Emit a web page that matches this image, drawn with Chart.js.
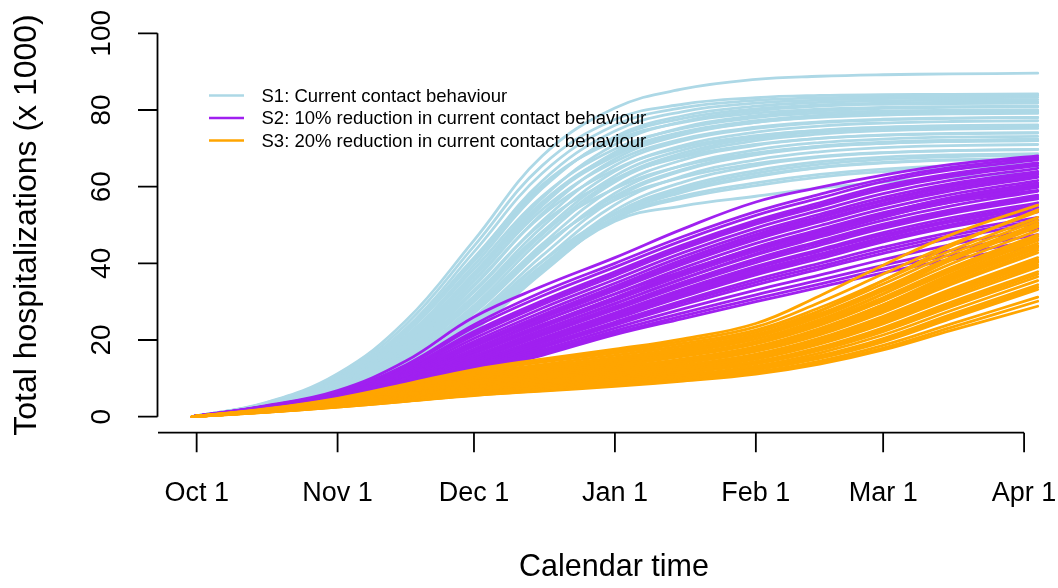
<!DOCTYPE html>
<html>
<head>
<meta charset="utf-8">
<title>Total hospitalizations</title>
<script src="https://cdn.jsdelivr.net/npm/chart.js@4.4.1/dist/chart.umd.min.js"></script>
<style>
  html, body { margin: 0; padding: 0; background: #fff; }
  canvas { display: block; }
</style>
</head>
<body>
<canvas id="hospChart" width="1058" height="588"></canvas>
<script>
// days since Oct 1 at which each run is sampled
const days = [-1, 15, 31, 46, 61, 76, 92, 107, 123, 137, 151, 166, 185];

// S1: current contact behaviour
const s1Runs = [
  [0, 3.6, 11.2, 25, 46, 68, 80.5, 85.5, 88, 88.8, 89.2, 89.4, 89.6],
  [0, 3.5, 10.8, 24, 44.5, 65.5, 77.5, 81.5, 83.2, 83.8, 84, 84.1, 84.2],
  [0, 3.4, 10.4, 23, 43, 63.5, 76, 80.6, 82.5, 83.2, 83.5, 83.7, 83.8],
  [0, 3.3, 10, 22, 41, 61.5, 74.5, 79.6, 81.8, 82.6, 83, 83.2, 83.3],
  [0, 3.2, 9.6, 21, 39.5, 59.5, 73, 78.5, 81, 82, 82.4, 82.6, 82.7],
  [0, 3.4, 10.2, 22.5, 41.5, 60.5, 72, 76.8, 79.2, 80.2, 80.7, 80.9, 81],
  [0, 3.1, 9.2, 20, 37.5, 57, 71, 77, 79.8, 81, 81.5, 81.7, 81.8],
  [0, 3.2, 9.4, 20.5, 38.5, 57.5, 69.8, 75.2, 78, 79.2, 79.7, 79.9, 80],
  [0, 3.0, 8.7, 18.8, 35.5, 55, 69, 75.5, 78.5, 79.8, 80.4, 80.7, 80.8],
  [0, 3.1, 9.0, 19.5, 36.5, 55.5, 68, 73.8, 76.8, 78.1, 78.7, 79, 79.1],
  [0, 2.9, 8.4, 18, 34, 53, 67.2, 73.6, 76.8, 78.2, 78.9, 79.2, 79.4],
  [0, 3.0, 8.8, 19, 35.5, 54, 66.5, 72.5, 75.5, 76.9, 77.6, 77.9, 78.1],
  [0, 2.9, 8.1, 17.3, 32.5, 51, 65.5, 72, 75.2, 76.7, 77.4, 77.8, 78],
  [0, 2.8, 7.9, 16.8, 31.5, 49.5, 64, 70.8, 74.2, 75.8, 76.6, 77, 77.2],
  [0, 3.0, 8.6, 18.3, 34.5, 52.5, 64.5, 70.3, 73.3, 74.7, 75.4, 75.8, 76],
  [0, 2.8, 7.7, 16.3, 30.5, 48.2, 62.8, 69.6, 73.1, 74.7, 75.5, 75.9, 76.1],
  [0, 2.7, 7.4, 15.5, 29, 46.5, 61.2, 68.2, 72, 73.7, 74.6, 75, 75.2],
  [0, 2.9, 8.2, 17.5, 33, 50.5, 62, 67.8, 71, 72.6, 73.4, 73.8, 74],
  [0, 2.7, 7.2, 15, 28, 45, 59.8, 67, 70.8, 72.6, 73.5, 73.9, 74.1],
  [0, 2.6, 7.0, 14.5, 27, 43.5, 58.3, 65.6, 69.6, 71.5, 72.4, 72.9, 73.1],
  [0, 2.8, 7.8, 16.5, 31, 48, 59.5, 65.5, 68.8, 70.5, 71.3, 71.8, 72],
  [0, 2.6, 6.8, 14, 26, 42, 56.8, 64.2, 68.3, 70.3, 71.3, 71.8, 72],
  [0, 2.6, 6.6, 13.5, 25, 40.5, 55.3, 62.8, 67, 69.1, 70.2, 70.7, 71],
  [0, 2.7, 7.3, 15.3, 28.5, 44.5, 56.5, 62.5, 66, 67.9, 68.9, 69.4, 69.7],
  [0, 2.5, 6.4, 13, 24, 39, 53.8, 61.2, 65.5, 67.7, 68.8, 69.4, 69.7],
  [0, 2.5, 6.2, 12.6, 23.3, 38.5, 53, 60, 64.2, 66.5, 67.7, 68.3, 68.6],
  [0, 2.6, 6.7, 13.8, 25.5, 40.5, 52.8, 59, 62.8, 65, 66.2, 66.9, 67.3],
  [0, 2.4, 6.0, 12.2, 22.6, 37.5, 52, 58.6, 62.6, 65, 66.3, 67, 67.4],
  [0, 2.4, 5.8, 11.8, 22.5, 38, 51, 55, 57.5, 59.6, 61.2, 62.5, 63.6],
  [0, 2.5, 6.3, 12.8, 23.8, 39, 52, 57.6, 61, 63.2, 64.6, 65.5, 66],
  [0, 2.4, 5.9, 12, 22.8, 38, 51.5, 57, 60.3, 62.5, 63.9, 64.8, 65.3],
  [0, 3.3, 9.9, 21.8, 40.5, 60, 72.6, 77.8, 80.3, 81.3, 81.8, 82, 82.1],
  [0, 3.1, 9.1, 19.8, 37, 56, 68.6, 74.3, 77.2, 78.6, 79.2, 79.5, 79.7],
  [0, 2.8, 7.6, 16, 30, 47.5, 61.8, 68.8, 72.6, 74.3, 75.1, 75.5, 75.7],
  [0, 2.7, 7.1, 14.8, 27.5, 44, 57.5, 64.5, 68.5, 70.6, 71.6, 72.1, 72.4],
  [0, 2.5, 6.5, 13.3, 24.5, 39.5, 53, 59.5, 63.5, 65.8, 67.1, 67.8, 68.2]
];

// S2: 10% reduction in current contact behaviour
const s2Runs = [
  [0, 2.8, 6.8, 14.5, 26, 34, 41.5, 49, 56, 59.8, 63, 65.8, 68],
  [0, 2.7, 6.5, 13.5, 24, 32.5, 40, 47, 53.5, 58, 62, 65, 67.5],
  [0, 2.7, 6.4, 13.2, 23.3, 31.5, 39, 46, 52.5, 57, 61.3, 64.4, 67],
  [0, 2.6, 6.2, 12.6, 22.2, 30.2, 37.8, 44.8, 51.2, 55.8, 60.2, 63.4, 66.2],
  [0, 2.6, 6.0, 12.1, 21.2, 29.2, 36.8, 43.8, 50.2, 54.8, 59.2, 62.6, 65.5],
  [0, 2.5, 5.9, 11.7, 20.4, 28.3, 35.8, 42.8, 49.2, 53.8, 58.2, 61.7, 64.8],
  [0, 2.5, 5.8, 11.3, 19.6, 27.3, 34.8, 41.8, 48.2, 52.8, 57.2, 60.8, 64],
  [0, 2.4, 5.6, 10.9, 18.9, 26.4, 33.8, 40.8, 47.2, 51.8, 56.2, 59.9, 63.2],
  [0, 2.4, 5.5, 10.6, 18.3, 25.6, 32.9, 39.8, 46.2, 50.8, 55.2, 58.9, 62.4],
  [0, 2.3, 5.4, 10.2, 17.6, 24.8, 32, 38.8, 45.2, 49.8, 54.2, 58, 61.6],
  [0, 2.3, 5.3, 9.9, 17, 24, 31.1, 37.8, 44.2, 48.8, 53.2, 57, 60.7],
  [0, 2.2, 5.1, 9.6, 16.4, 23.3, 30.3, 36.9, 43.2, 47.8, 52.2, 56, 59.8],
  [0, 2.2, 5.0, 9.3, 15.8, 22.6, 29.5, 36, 42.2, 46.8, 51.2, 55, 58.8],
  [0, 2.1, 4.9, 9.0, 15.2, 21.9, 28.7, 35.1, 41.2, 45.8, 50.2, 54, 57.8],
  [0, 2.1, 4.8, 8.7, 14.7, 21.2, 27.9, 34.2, 40.2, 44.7, 49.1, 53, 56.8],
  [0, 2.0, 4.7, 8.5, 14.2, 20.5, 27.1, 33.3, 39.2, 43.6, 48, 51.9, 55.8],
  [0, 2.0, 4.6, 8.3, 13.8, 19.8, 26.3, 32.3, 38.1, 42.4, 46.8, 50.8, 54.6],
  [0, 2.0, 4.5, 8.1, 13.4, 19.2, 25.5, 31.3, 37, 41.2, 45.6, 49.5, 53.4],
  [0, 1.9, 4.4, 7.9, 13, 18.6, 24.7, 30.3, 35.8, 40, 44.2, 48.1, 52],
  [0, 1.9, 4.3, 7.7, 12.6, 18, 23.9, 29.2, 34.4, 38.5, 42.6, 46.5, 50.5],
  [0, 1.9, 4.3, 7.5, 12.3, 17.4, 23.1, 28.1, 33, 36.9, 41, 44.9, 49],
  [0, 1.8, 4.2, 7.3, 12, 16.9, 22.4, 27.1, 31.8, 35.6, 39.5, 43.4, 47.5],
  [0, 1.8, 4.2, 7.2, 11.7, 16.4, 21.8, 26.3, 30.8, 34.6, 38.5, 42.2, 46],
  [0, 1.8, 4.1, 7.1, 11.5, 16, 21.4, 25.6, 30, 33.7, 37.5, 41, 44.5],
  [0, 2.3, 5.3, 10.2, 17.6, 25, 32, 38, 44, 48.3, 52.5, 56, 59],
  [0, 2.1, 4.8, 9, 15.5, 22.5, 29.5, 36, 42.5, 47.3, 52, 56.2, 60],
  [0, 2.4, 5.6, 11, 19, 26.5, 34, 41, 47.5, 52.2, 56.5, 60.3, 63.5],
  [0, 2.2, 5.0, 9.5, 16.5, 23.5, 30.5, 37, 43.5, 48.5, 53, 57.2, 61],
  [0, 2.6, 6.1, 12.3, 21.7, 29.8, 37.4, 44.2, 50.6, 55.2, 59.6, 63, 66],
  [0, 2.2, 5.2, 9.8, 16.8, 23.8, 30.8, 37.4, 43.8, 48.4, 52.8, 56.6, 60.3],
  [0, 2.0, 4.6, 8.4, 14, 20.1, 26.6, 32.8, 38.7, 43.1, 47.4, 51.3, 55.2],
  [0, 1.9, 4.4, 7.8, 12.8, 18.3, 24.3, 29.8, 35.1, 39.2, 43.4, 47.3, 51.2],
  [0, 2.4, 5.5, 10.7, 18.5, 26, 33.3, 40.2, 46.6, 51.2, 55.6, 59.3, 62.7],
  [0, 2.1, 4.9, 8.9, 15, 21.6, 28.4, 34.7, 40.8, 45.3, 49.7, 53.5, 57.3],
  [0, 2.3, 5.2, 9.8, 16.9, 23.9, 31, 37.6, 44, 48.6, 53, 56.8, 60.4],
  [0, 2.0, 4.5, 8.2, 13.6, 19.5, 25.9, 31.8, 37.5, 41.8, 46.2, 50.1, 54]
];

// S3: 20% reduction in current contact behaviour
const s3Runs = [
  [0, 2.0, 4.8, 8.5, 12.3, 15, 17.6, 20.3, 24.3, 31.5, 39.5, 47.5, 55.2],
  [0, 1.9, 4.6, 8.2, 12, 14.6, 17.1, 19.7, 23.4, 29.8, 37.2, 45, 53.5],
  [0, 1.9, 4.5, 8, 11.7, 14.2, 16.6, 19.1, 22.6, 28.4, 35.5, 43.4, 52],
  [0, 1.8, 4.3, 7.6, 11.2, 13.6, 16, 18.5, 22, 27.6, 34.6, 42.5, 51.2],
  [0, 1.8, 4.2, 7.3, 10.8, 13.1, 15.4, 17.9, 21.4, 26.8, 33.6, 41.6, 50.3],
  [0, 1.7, 4.0, 7.0, 10.3, 12.6, 14.9, 17.3, 20.8, 26, 32.8, 40.8, 49.5],
  [0, 1.7, 3.9, 6.7, 9.9, 12.1, 14.4, 16.8, 20.2, 25.3, 32, 39.9, 48.6],
  [0, 1.6, 3.8, 6.5, 9.5, 11.6, 13.9, 16.3, 19.6, 24.6, 31.1, 38.9, 47.5],
  [0, 1.6, 3.7, 6.3, 9.1, 11.2, 13.4, 15.7, 19, 23.8, 30.2, 37.9, 46.5],
  [0, 1.5, 3.5, 6.0, 8.7, 10.7, 12.9, 15.1, 18.3, 23, 29.2, 36.8, 45.2],
  [0, 1.5, 3.4, 5.8, 8.4, 10.3, 12.4, 14.6, 17.6, 22.1, 28.2, 35.6, 44],
  [0, 1.5, 3.3, 5.6, 8.0, 9.9, 11.9, 14, 17, 21.3, 27.2, 34.5, 42.8],
  [0, 1.4, 3.2, 5.4, 7.7, 9.5, 11.4, 13.4, 16.3, 20.5, 26.2, 33.3, 41.5],
  [0, 1.4, 3.1, 5.2, 7.4, 9.1, 10.9, 12.9, 15.6, 19.7, 25.2, 32.2, 40.2],
  [0, 1.4, 3.0, 5.0, 7.1, 8.7, 10.5, 12.4, 15, 18.9, 24.2, 31, 39],
  [0, 1.3, 2.9, 4.8, 6.8, 8.4, 10.1, 11.9, 14.4, 18.1, 23.2, 29.9, 37.8],
  [0, 1.3, 2.8, 4.6, 6.5, 8.0, 9.7, 11.4, 13.8, 17.3, 22.2, 28.7, 36.5],
  [0, 1.3, 2.8, 4.5, 6.3, 7.7, 9.3, 10.9, 13.2, 16.6, 21.3, 27.7, 35.5],
  [0, 1.2, 2.7, 4.4, 6.1, 7.4, 8.9, 10.5, 12.7, 15.9, 20.4, 26.7, 34.4],
  [0, 1.2, 2.6, 4.2, 5.9, 7.2, 8.6, 10.1, 12.2, 15.2, 19.5, 25.6, 33.2],
  [0, 1.2, 2.6, 4.1, 5.7, 7, 8.3, 9.7, 11.7, 14.5, 18.6, 24.2, 31.2],
  [0, 1.1, 2.5, 4.0, 5.6, 6.8, 8.1, 9.5, 11.4, 14.1, 17.9, 23.3, 30.1],
  [0, 1.1, 2.5, 4.0, 5.5, 6.7, 7.9, 9.3, 11.1, 13.7, 17.4, 22.5, 28.8],
  [0, 1.6, 3.6, 6.2, 9, 11, 13.3, 15.9, 19.5, 25, 32, 41, 50.5],
  [0, 1.7, 3.9, 6.8, 10, 12.2, 14.5, 17.2, 21, 27.5, 35.5, 44.5, 54],
  [0, 1.4, 3.2, 5.5, 7.9, 9.7, 11.6, 13.9, 17.2, 21.8, 28, 35.8, 44.5],
  [0, 1.3, 2.9, 4.9, 7, 8.6, 10.3, 12.3, 15.2, 19.3, 24.9, 32.2, 40.5],
  [0, 1.5, 3.4, 5.9, 8.5, 10.5, 12.6, 14.9, 18, 22.8, 29.2, 37.2, 46],
  [0, 1.7, 4.1, 7.2, 10.6, 12.9, 15.2, 17.6, 21.1, 26.4, 33.2, 41.2, 49.9],
  [0, 1.6, 3.7, 6.4, 9.3, 11.4, 13.6, 16, 19.3, 24.2, 30.7, 38.4, 47],
  [0, 1.5, 3.5, 5.9, 8.6, 10.5, 12.6, 14.8, 17.9, 22.5, 28.7, 36.2, 44.6],
  [0, 1.4, 3.1, 5.3, 7.5, 9.3, 11.1, 13.1, 15.9, 20.1, 25.7, 32.8, 40.9],
  [0, 1.3, 2.9, 4.7, 6.6, 8.2, 9.9, 11.6, 14.1, 17.7, 22.7, 29.3, 37.2],
  [0, 1.2, 2.7, 4.3, 6.0, 7.3, 8.8, 10.3, 12.4, 15.5, 19.9, 26.1, 33.8],
  [0, 1.5, 3.4, 5.7, 8.2, 10.1, 12.2, 14.3, 17.3, 21.7, 27.7, 35, 43.4],
  [0, 1.3, 3.0, 5.1, 7.2, 8.9, 10.7, 12.6, 15.3, 19.3, 24.7, 31.6, 39.6]
];

const monthDays = [0, 31, 61, 92, 123, 151, 182];
const monthLabels = ["Oct 1", "Nov 1", "Dec 1", "Jan 1", "Feb 1", "Mar 1", "Apr 1"];
const yTicks = [0, 20, 40, 60, 80, 100];

const scenarioNames = [
  "S1: Current contact behaviour",
  "S2: 10% reduction in current contact behaviour",
  "S3: 20% reduction in current contact behaviour"
];
const scenarioColors = ["#ADD8E6", "#A020F0", "#FFA500"];

const FONT = "'Liberation Sans', Arial, Helvetica, sans-serif";

function makeDatasets(runs, color, order) {
  return runs.map(run => ({
    data: run.map((v, i) => ({ x: days[i], y: v })),
    borderColor: color,
    borderWidth: 2.8,
    pointRadius: 0,
    fill: false,
    tension: 0.4,
    borderCapStyle: "round",
    order: order
  }));
}

// R-style axes, titles and legend drawn on top
const rAxes = {
  id: "rAxes",
  afterDraw(chart) {
    const ctx = chart.ctx;
    const xs = chart.scales.x;
    const ys = chart.scales.y;
    ctx.save();
    ctx.strokeStyle = "#000";
    ctx.fillStyle = "#000";
    ctx.lineWidth = 1.8;

    // y axis
    const ax = 157.5;
    ctx.beginPath();
    ctx.moveTo(ax, ys.getPixelForValue(0));
    ctx.lineTo(ax, ys.getPixelForValue(100));
    yTicks.forEach(t => {
      const py = ys.getPixelForValue(t);
      ctx.moveTo(ax, py);
      ctx.lineTo(ax - 19.5, py);
    });
    ctx.stroke();

    ctx.font = "28px " + FONT;
    ctx.textAlign = "center";
    ctx.textBaseline = "middle";
    yTicks.forEach(t => {
      const py = ys.getPixelForValue(t);
      ctx.save();
      ctx.translate(101, py);
      ctx.rotate(-Math.PI / 2);
      ctx.fillText(String(t), 0, 1);
      ctx.restore();
    });

    // x axis
    const ay = 432.7;
    ctx.beginPath();
    ctx.moveTo(158, ay);
    ctx.lineTo(xs.getPixelForValue(182), ay);
    monthDays.forEach(d => {
      const px = xs.getPixelForValue(d);
      ctx.moveTo(px, ay);
      ctx.lineTo(px, ay + 19.5);
    });
    ctx.stroke();

    ctx.font = "27px " + FONT;
    monthDays.forEach((d, i) => {
      ctx.fillText(monthLabels[i], xs.getPixelForValue(d), 494);
    });

    // axis titles
    ctx.font = "30.5px " + FONT;
    ctx.fillText("Calendar time", 614, 568);
    ctx.save();
    ctx.translate(27, 225);
    ctx.rotate(-Math.PI / 2);
    ctx.font = "32px " + FONT;
    ctx.fillText("Total hospitalizations (x 1000)", 0, 0);
    ctx.restore();

    // legend
    ctx.font = "18.5px " + FONT;
    ctx.textAlign = "left";
    const rows = [95.5, 118, 140.5];
    scenarioNames.forEach((name, i) => {
      ctx.strokeStyle = scenarioColors[i];
      ctx.lineWidth = 2.5;
      ctx.beginPath();
      ctx.moveTo(209, rows[i]);
      ctx.lineTo(244, rows[i]);
      ctx.stroke();
      ctx.fillStyle = "#000";
      ctx.fillText(name, 261.5, rows[i] + 1);
    });
    ctx.restore();
  }
};

new Chart(document.getElementById("hospChart"), {
  type: "line",
  data: {
    datasets: [
      ...makeDatasets(s1Runs, scenarioColors[0], 3),
      ...makeDatasets(s2Runs, scenarioColors[1], 2),
      ...makeDatasets(s3Runs, scenarioColors[2], 1)
    ]
  },
  options: {
    responsive: false,
    animation: false,
    devicePixelRatio: 1,
    layout: { padding: { left: 158, right: 18, top: 18, bottom: 156 } },
    scales: {
      x: { type: "linear", min: -8.5, max: 185.5, display: false },
      y: { min: -4, max: 104, display: false }
    },
    plugins: {
      legend: { display: false },
      tooltip: { enabled: false }
    }
  },
  plugins: [rAxes]
});
</script>
</body>
</html>
